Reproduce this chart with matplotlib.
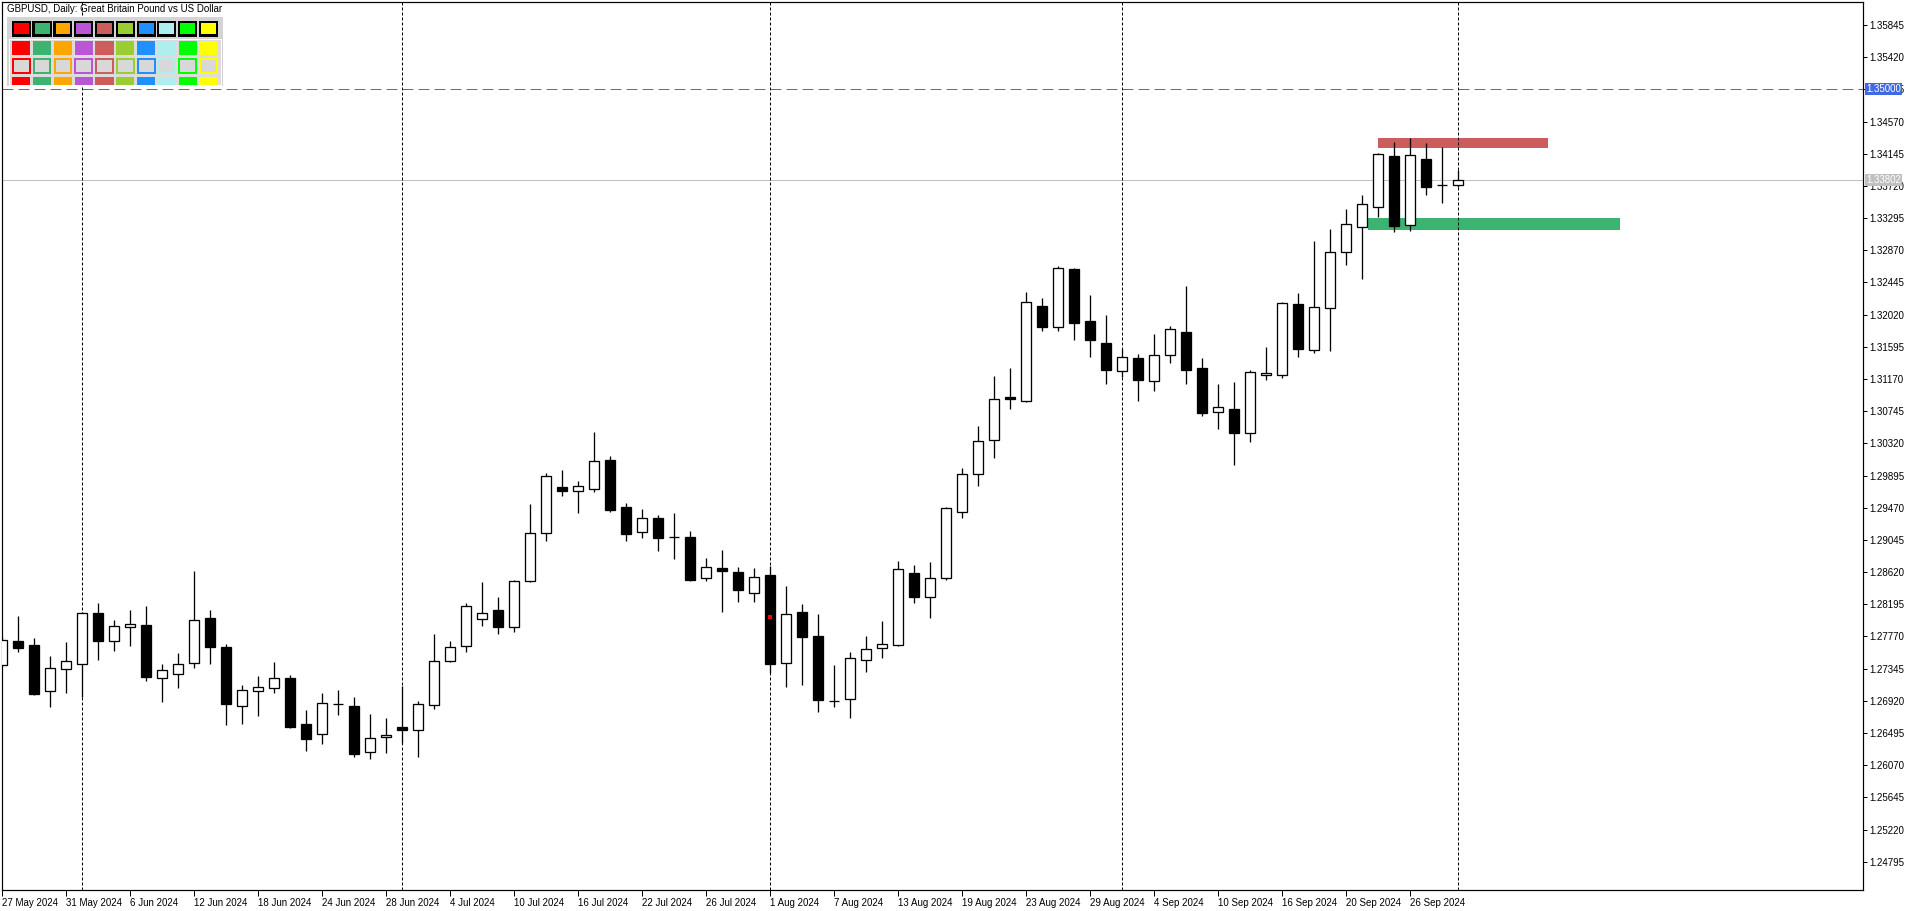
import numpy as np
import pandas as pd
import matplotlib
matplotlib.use("Agg")
import matplotlib.pyplot as plt
from matplotlib.patches import Rectangle
from matplotlib import transforms

W, H, DPI = 1916, 911, 100
PX = 72 / DPI  # one pixel in points

plt.rcParams['font.family'] = ['Liberation Sans', 'DejaVu Sans']

title = "GBPUSD, Daily: Great Britain Pound vs US Dollar"
dates = pd.bdate_range("2024-05-27", "2024-10-01")

# daily OHLC
opens = [1.27389, 1.27710, 1.27657, 1.27046, 1.27336, 1.27402, 1.28076, 1.27706, 1.27891, 1.27922,
         1.27217, 1.27270, 1.27415, 1.28010, 1.27627, 1.26848, 1.27046, 1.27085, 1.27217, 1.26610,
         1.26478, 1.26874, 1.26852, 1.26249, 1.26438, 1.26574, 1.26530, 1.26860, 1.27441, 1.27639,
         1.27996, 1.28115, 1.27890, 1.28498, 1.29132, 1.29739, 1.29686, 1.29713, 1.30100, 1.29479,
         1.29154, 1.29330, 1.29088, 1.29079, 1.28538, 1.28669, 1.28617, 1.28339, 1.28577, 1.27415,
         1.28089, 1.27771, 1.26917, 1.26940, 1.27455, 1.27613, 1.27653, 1.28603, 1.28287, 1.28546,
         1.29409, 1.29911, 1.30360, 1.30932, 1.30875, 1.32130, 1.31852, 1.32618, 1.31931, 1.31641,
         1.31271, 1.31443, 1.31139, 1.31482, 1.31790, 1.31315, 1.30730, 1.30774, 1.30452, 1.31218,
         1.31218, 1.32156, 1.31549, 1.32103, 1.32843, 1.33173, 1.33437, 1.34111, 1.33199, 1.34071,
         1.33736, 1.33727]
highs = [1.27760, 1.28040, 1.27750, 1.27508, 1.27697, 1.28090, 1.28212, 1.27988, 1.28120, 1.28173,
         1.27407, 1.27552, 1.28635, 1.28120, 1.27666, 1.27125, 1.27248, 1.27433, 1.27257, 1.26799,
         1.27024, 1.27063, 1.26971, 1.26746, 1.26693, 1.27111, 1.26917, 1.27802, 1.27709, 1.28211,
         1.28489, 1.28291, 1.28515, 1.29519, 1.29928, 1.29968, 1.29822, 1.30470, 1.30153, 1.29532,
         1.29453, 1.29374, 1.29400, 1.29162, 1.28806, 1.28912, 1.28683, 1.28669, 1.28700, 1.28436,
         1.28199, 1.28067, 1.27393, 1.27560, 1.27776, 1.27974, 1.28766, 1.28714, 1.28753, 1.29475,
         1.29990, 1.30545, 1.31210, 1.31315, 1.32319, 1.32240, 1.32662, 1.32631, 1.32279, 1.32015,
         1.31562, 1.31496, 1.31764, 1.31870, 1.32398, 1.31447, 1.31104, 1.31130, 1.31285, 1.31592,
         1.32182, 1.32306, 1.32992, 1.33151, 1.33415, 1.33600, 1.34155, 1.34300, 1.34353, 1.34287,
         1.34234, 1.33926]
lows = [1.27370, 1.27569, 1.27002, 1.26843, 1.27028, 1.26975, 1.27464, 1.27583, 1.27649, 1.27186,
        1.26909, 1.27094, 1.27358, 1.27411, 1.26605, 1.26619, 1.26724, 1.27028, 1.26566, 1.26262,
        1.26355, 1.26737, 1.26183, 1.26152, 1.26236, 1.26367, 1.26182, 1.26807, 1.27430, 1.27569,
        1.27912, 1.27807, 1.27833, 1.28490, 1.29035, 1.29629, 1.29404, 1.29682, 1.29418, 1.29035,
        1.29074, 1.28903, 1.28797, 1.28507, 1.28507, 1.28097, 1.28229, 1.28229, 1.27292, 1.27107,
        1.27133, 1.26768, 1.26834, 1.26689, 1.27296, 1.27490, 1.27640, 1.28207, 1.28018, 1.28520,
        1.29339, 1.29761, 1.30131, 1.30778, 1.30862, 1.31808, 1.31808, 1.31689, 1.31465, 1.31108,
        1.31201, 1.30884, 1.31016, 1.31386, 1.31108, 1.30685, 1.30514, 1.30038, 1.30334, 1.31161,
        1.31179, 1.31465, 1.31518, 1.31544, 1.32680, 1.32495, 1.33314, 1.33116, 1.33129, 1.33604,
        1.33499, 1.33700]
closes = [1.27719, 1.27622, 1.27015, 1.27349, 1.27442, 1.28076, 1.27715, 1.27904, 1.27930, 1.27239,
          1.27323, 1.27402, 1.27983, 1.27635, 1.26883, 1.27059, 1.27098, 1.27217, 1.26579, 1.26421,
          1.26887, 1.26872, 1.26222, 1.26425, 1.26465, 1.26539, 1.26873, 1.27441, 1.27626, 1.28167,
          1.28075, 1.27890, 1.28498, 1.29132, 1.29884, 1.29686, 1.29752, 1.30083, 1.29444, 1.29127,
          1.29330, 1.29074, 1.29079, 1.28520, 1.28683, 1.28630, 1.28379, 1.28551, 1.27402, 1.28062,
          1.27767, 1.26927, 1.26913, 1.27481, 1.27600, 1.27666, 1.28656, 1.28287, 1.28538, 1.29462,
          1.29911, 1.30347, 1.30901, 1.30910, 1.32182, 1.31861, 1.32631, 1.31914, 1.31689, 1.31293,
          1.31456, 1.31161, 1.31482, 1.31826, 1.31293, 1.30725, 1.30796, 1.30452, 1.31258, 1.31245,
          1.32169, 1.31571, 1.32116, 1.32843, 1.33213, 1.33477, 1.34137, 1.33195, 1.34124, 1.33710,
          1.33728, 1.33802]

price_ticks = [1.24795, 1.25220, 1.25645, 1.26070, 1.26495, 1.26920, 1.27345, 1.27770, 1.28195,
               1.28620, 1.29045, 1.29470, 1.29895, 1.30320, 1.30745, 1.31170, 1.31595, 1.32020,
               1.32445, 1.32870, 1.33295, 1.33720, 1.34145, 1.34570, 1.34995, 1.35420, 1.35845]
date_label_step = 4

level_price = 1.35000
last_price = 1.33802
# zones: (bar start, bar end, price low, price high)
resist_zone = (86.0, 96.6, 1.34225, 1.34349)
support_zone = (85.35, 101.1, 1.33142, 1.33292)
trade_mark = (48, 1.28027)

palette = ['#FF0000', '#3CB371', '#FFA500', '#BA55D3', '#CD5C5C',
           '#9ACD32', '#1E90FF', '#AFEEEE', '#00FF00', '#FFFF00']

fig = plt.figure(figsize=(W / DPI, H / DPI), dpi=DPI, facecolor='white')
ax = fig.add_axes([2 / W, (H - 890) / H, (1863 - 2) / W, (890 - 2) / H])
ax.set_facecolor('white')

x = np.arange(len(dates))
o = np.array(opens); h = np.array(highs); l = np.array(lows); c = np.array(closes)

# candles
bull = c >= o
lo_body = np.minimum(o, c)
hi_body = np.maximum(o, c)
ax.vlines(x, l, h, color='black', lw=1.3 * PX, zorder=3)
ax.bar(x, np.maximum(hi_body - lo_body, 1e-6), bottom=lo_body, width=0.62,
       color=np.where(bull, 'white', 'black'), edgecolor='black', lw=1.3 * PX, zorder=4)
ax.plot([trade_mark[0]], [trade_mark[1]], marker='s', ms=2.2, color='red', mew=0, zorder=5)

# month separators
month_start = [i for i in range(1, len(dates)) if dates[i].month != dates[i - 1].month]
for i in month_start:
    ax.axvline(i, color='black', lw=PX, ls=(0, (3, 2)), zorder=2)

# levels
ax.axhline(level_price, color='#4169E1', lw=PX, ls=(0, (11, 5)), zorder=2)
ax.axhline(last_price, color='#C0C0C0', lw=PX, zorder=1.5)

for z, col in [(resist_zone, '#CD5C5C'), (support_zone, '#3CB371')]:
    ax.add_patch(Rectangle((z[0], z[2]), z[1] - z[0], z[3] - z[2], fc=col, ec='none', zorder=1.8))

ax.set_xlim((2 - 2.3) / 16, (1863 - 2.3) / 16)
ax.set_ylim(1.24421, 1.36149)

for s in ax.spines.values():
    s.set_linewidth(PX * 1.2)
    s.set_color('black')

ax.yaxis.tick_right()
ax.set_yticks(price_ticks)
ax.set_yticklabels([f"{p:.5f}" for p in price_ticks])
ax.tick_params(axis='y', direction='out', length=4 * PX, width=PX, pad=2 * PX, labelsize=7)

tick_idx = list(range(0, len(dates), date_label_step))
ax.set_xticks(tick_idx)
ax.set_xticklabels([f"{dates[i].day} {dates[i].strftime('%b %Y')}" for i in tick_idx], ha='left')
ax.tick_params(axis='x', direction='out', length=6 * PX, width=PX, pad=1.5 * PX, labelsize=7)

for price, col in [(level_price, '#4169E1'), (last_price, '#C0C0C0')]:
    ax.annotate(f"{price:.5f}", xy=(1, price), xycoords=('axes fraction', 'data'),
                xytext=(3 * PX, 0), textcoords='offset points', ha='left', va='center',
                fontsize=7, color='white', annotation_clip=False, zorder=10,
                bbox=dict(boxstyle='square,pad=0.1', fc=col, ec='none'))

# top-left title and color palette panel (pixel coords from top-left)
tr = transforms.Affine2D().scale(1 / W, -1 / H).translate(0, 1) + fig.transFigure
fig.text(7 / W, 1 - 9.5 / H, title, ha='left', va='center', fontsize=7, color='black')

fig.add_artist(Rectangle((7, 17), 216, 69, fc='#D4D4D4', ec='none', transform=tr, zorder=0.5))
fig.add_artist(Rectangle((9, 39), 212, 46, fc='#DCDCDC', ec='white', lw=PX, transform=tr, zorder=0.6))
for k, col in enumerate(palette):
    cx = 21.3 + 20.8 * k
    fig.add_artist(Rectangle((cx - 9.6, 21), 19.2, 15.7, fc='black', ec='none', transform=tr, zorder=0.7))
    fig.add_artist(Rectangle((cx - 7.4, 23.3), 15, 10.3, fc=col, ec='none', transform=tr, zorder=0.8))
    fig.add_artist(Rectangle((cx - 9.1, 40.7), 18.3, 14.3, fc=col, ec='none', transform=tr, zorder=0.7))
    fig.add_artist(Rectangle((cx - 8.4, 59), 16.8, 14.3, fc='#D8D8D8', ec=col, lw=2 * PX,
                             transform=tr, zorder=0.7))
    fig.add_artist(Rectangle((cx - 9.1, 76.7), 18.3, 8, fc=col, ec='none', transform=tr, zorder=0.7))

fig.savefig("out.png", dpi=DPI, facecolor='white')
